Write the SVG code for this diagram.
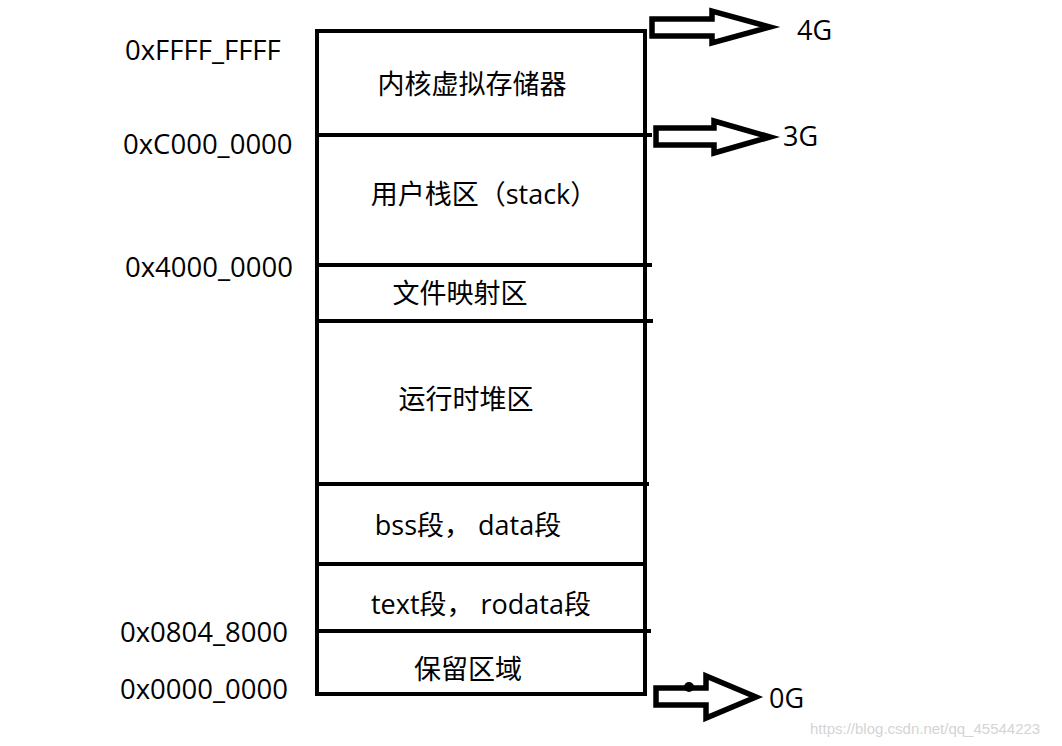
<svg xmlns="http://www.w3.org/2000/svg" width="1062" height="746" viewBox="0 0 1062 746">
<style>
.ln{stroke:#000;stroke-width:4;fill:none}
.ar{stroke:#000;stroke-width:5.5;fill:#fff;stroke-linejoin:miter}
.t{font-family:"Open Sans","Noto Sans CJK SC",sans-serif;font-size:27px;fill:#000}
.h{font-size:27.5px}
.c{text-anchor:middle}
.wm{font-family:"Liberation Sans",Arial,sans-serif;font-size:15px;fill:#d4d4d4}
</style>
<rect width="1062" height="746" fill="#fff"/>
<g id="memory">
<rect class="ln" x="317" y="31" width="328" height="663"/>
</g>
<g id="connectors">
<line class="ln" x1="317" y1="135" x2="652" y2="135"/>
<line class="ln" x1="317" y1="265" x2="652" y2="265"/>
<line class="ln" x1="317" y1="321" x2="653" y2="321"/>
<line class="ln" x1="317" y1="484" x2="649" y2="484"/>
<line class="ln" x1="317" y1="564" x2="645" y2="564"/>
<line class="ln" x1="317" y1="631" x2="651" y2="631"/>
<path class="ar" d="M652,19 L712,19 L712,11 L770,27 L712,43 L712,36 L652,36 Z"/>
<path class="ar" d="M656,128 L714,128 L714,121 L770,137 L714,153 L714,145 L656,145 Z"/>
<path class="ar" d="M656,688 L706,688 L706,676 L756,697 L706,718 L706,705 L656,705 Z"/>
<circle cx="689" cy="687" r="5" fill="#000"/>
</g>
<g id="kernel"><text class="t c" x="472" y="94">内核虚拟存储器</text></g>
<g id="stack"><text class="t c" x="484" y="204">用户栈区（stack）</text></g>
<g id="mmap"><text class="t c" x="460" y="303">文件映射区</text></g>
<g id="heap"><text class="t c" x="466" y="409">运行时堆区</text></g>
<g id="bss"><text class="t c" x="468" y="535">bss段， data段</text></g>
<g id="text"><text class="t c" x="481" y="614">text段， rodata段</text></g>
<g id="reserved"><text class="t c" x="468" y="679">保留区域</text></g>
<g id="addr">
<text class="t h" x="125" y="60">0xFFFF_FFFF</text>
<text class="t h" x="123" y="154">0xC000_0000</text>
<text class="t h" x="125" y="277">0x4000_0000</text>
<text class="t h" x="120" y="642">0x0804_8000</text>
<text class="t h" x="120" y="699">0x0000_0000</text>
</g>
<g id="gb">
<text class="t" x="797" y="40">4G</text>
<text class="t" x="783" y="146">3G</text>
<text class="t" x="769" y="708">0G</text>
</g>
<text class="wm" x="810" y="734">https://blog.csdn.net/qq_45544223</text>
</svg>
